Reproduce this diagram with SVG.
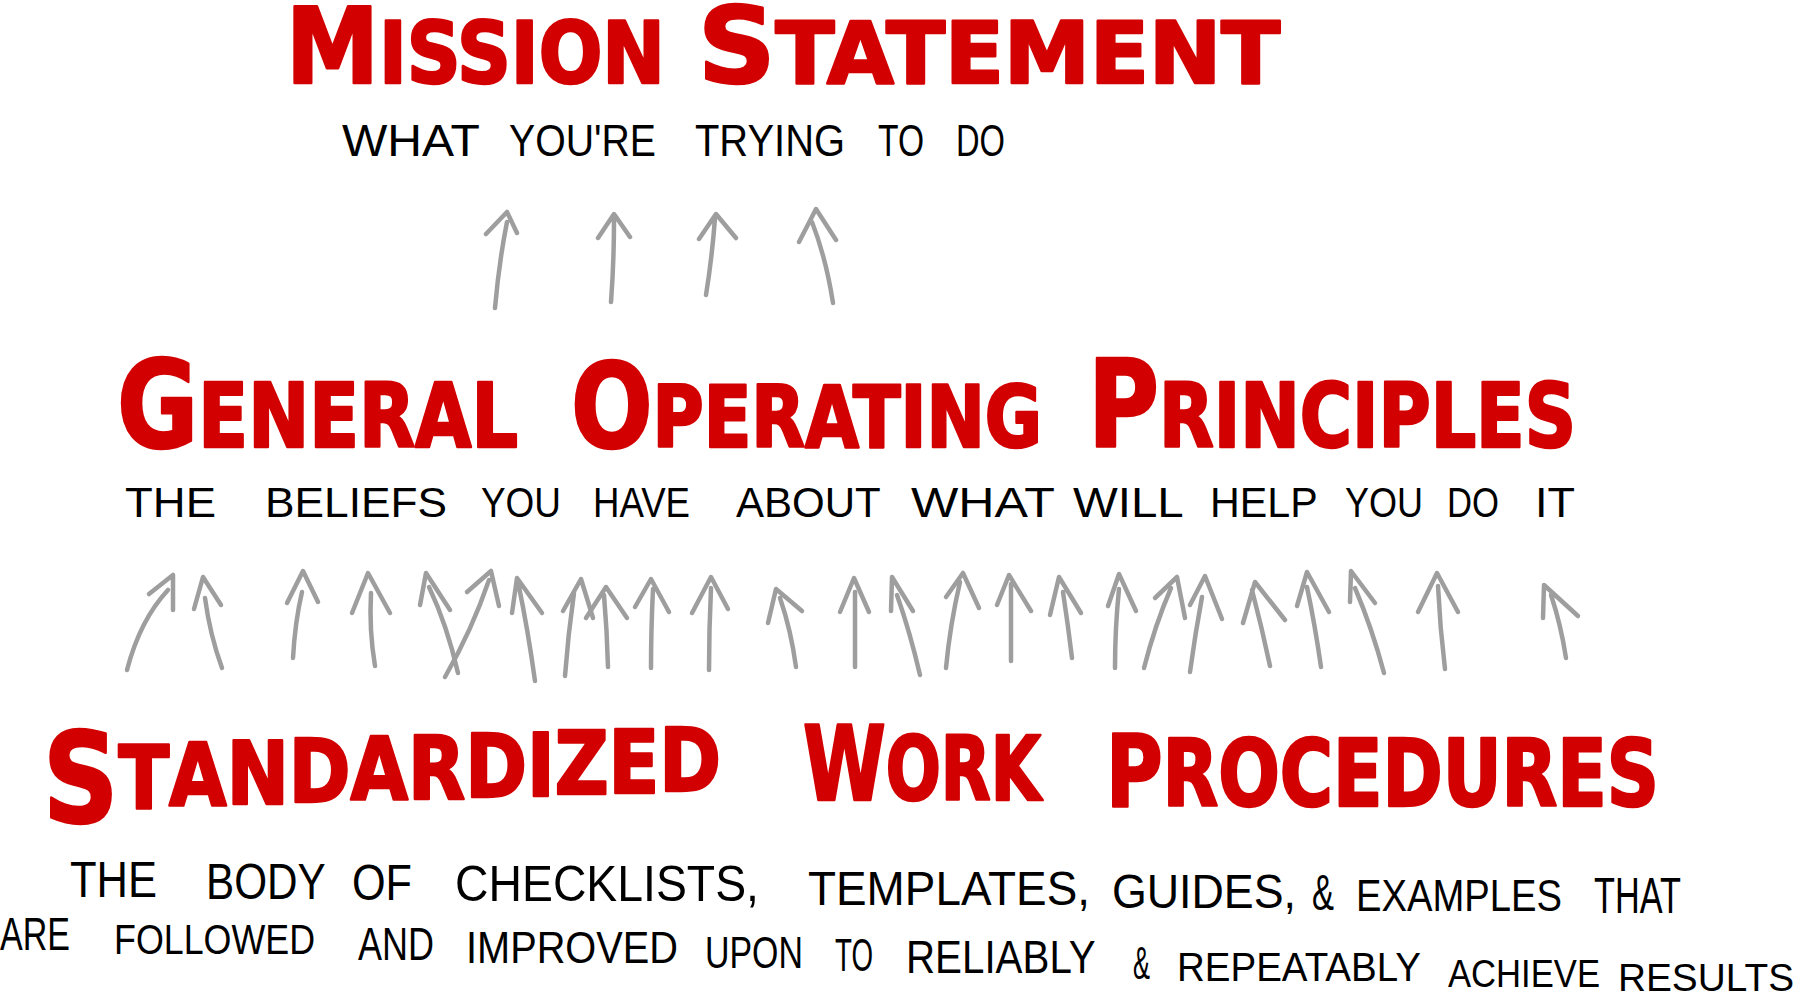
<svg xmlns="http://www.w3.org/2000/svg" width="1801" height="1000" viewBox="0 0 1801 1000">
<style>
.title{font-family:"DejaVu Sans Condensed","DejaVu Sans",sans-serif;font-weight:bold;fill:#d20000;stroke:#d20000;stroke-width:2.5;stroke-linejoin:round}
.sub{font-family:"Liberation Sans",Arial,sans-serif;fill:#000}
.arr{fill:none;stroke:#9e9e9e;stroke-width:4.5;stroke-linecap:round;stroke-linejoin:round}
</style>
<rect width="1801" height="1000" fill="#fff"/>
<g id="mission">
<text class="title" x="286" y="83" textLength="379" lengthAdjust="spacingAndGlyphs"><tspan font-size="106">M</tspan><tspan font-size="85">ISSION</tspan></text>
<text class="title" x="698" y="83" textLength="582" lengthAdjust="spacingAndGlyphs"><tspan font-size="106">S</tspan><tspan font-size="85">TATEMENT</tspan></text>
<text class="sub" y="156" font-size="44"><tspan x="342" textLength="137" lengthAdjust="spacingAndGlyphs">WHAT</tspan> <tspan x="509" textLength="147" lengthAdjust="spacingAndGlyphs">YOU'RE</tspan> <tspan x="695" textLength="150" lengthAdjust="spacingAndGlyphs">TRYING</tspan> <tspan x="878" textLength="46" lengthAdjust="spacingAndGlyphs">TO</tspan> <tspan x="956" textLength="49" lengthAdjust="spacingAndGlyphs">DO</tspan></text>
</g>
<g id="principles">
<text class="title" x="117" y="447" textLength="401" lengthAdjust="spacingAndGlyphs"><tspan font-size="121">G</tspan><tspan font-size="89">ENERAL</tspan></text>
<text class="title" x="571" y="447" textLength="471" lengthAdjust="spacingAndGlyphs"><tspan font-size="117">O</tspan><tspan font-size="85">PERATING</tspan></text>
<text class="title" x="1088" y="447" textLength="488" lengthAdjust="spacingAndGlyphs"><tspan font-size="121">P</tspan><tspan font-size="89">RINCIPLES</tspan></text>
<text class="sub" y="517" font-size="42"><tspan x="125" textLength="91" lengthAdjust="spacingAndGlyphs">THE</tspan> <tspan x="265" textLength="182" lengthAdjust="spacingAndGlyphs">BELIEFS</tspan> <tspan x="481" textLength="80" lengthAdjust="spacingAndGlyphs">YOU</tspan> <tspan x="593" textLength="97" lengthAdjust="spacingAndGlyphs">HAVE</tspan> <tspan x="736" textLength="144" lengthAdjust="spacingAndGlyphs">ABOUT</tspan> <tspan x="911" textLength="143" lengthAdjust="spacingAndGlyphs">WHAT</tspan> <tspan x="1073" textLength="109" lengthAdjust="spacingAndGlyphs">WILL</tspan> <tspan x="1210" textLength="107" lengthAdjust="spacingAndGlyphs">HELP</tspan> <tspan x="1345" textLength="78" lengthAdjust="spacingAndGlyphs">YOU</tspan> <tspan x="1447" textLength="52" lengthAdjust="spacingAndGlyphs">DO</tspan> <tspan x="1535" textLength="40" lengthAdjust="spacingAndGlyphs">IT</tspan></text>
</g>
<g id="procedures">
<text class="title" x="43" y="808" textLength="678" lengthAdjust="spacingAndGlyphs"><tspan font-size="124" y="822">S</tspan><tspan font-size="88" y="808 806 804 802 800 798.5 797 795.5 794 792.5 791">TANDARDIZED</tspan></text>
<text class="title" x="803" y="800" textLength="238" lengthAdjust="spacingAndGlyphs"><tspan font-size="103">W</tspan><tspan font-size="89">ORK</tspan></text>
<text class="title" x="1106" y="806" textLength="553" lengthAdjust="spacingAndGlyphs"><tspan font-size="99">P</tspan><tspan font-size="93">ROCEDURES</tspan></text>
<text class="sub" font-size="50"><tspan x="70" y="897" textLength="87" lengthAdjust="spacingAndGlyphs">THE</tspan> <tspan x="206" y="898.5" textLength="119" lengthAdjust="spacingAndGlyphs">BODY</tspan> <tspan x="352" y="900" textLength="60" lengthAdjust="spacingAndGlyphs">OF</tspan> <tspan x="455" y="901" textLength="304" lengthAdjust="spacingAndGlyphs">CHECKLISTS,</tspan> <tspan x="808" y="905" font-size="48" textLength="282" lengthAdjust="spacingAndGlyphs">TEMPLATES,</tspan> <tspan x="1112" y="908" font-size="48" textLength="184" lengthAdjust="spacingAndGlyphs">GUIDES,</tspan> <tspan x="1312" y="910" textLength="22" lengthAdjust="spacingAndGlyphs">&amp;</tspan> <tspan x="1356" y="910.5" font-size="44" textLength="206" lengthAdjust="spacingAndGlyphs">EXAMPLES</tspan> <tspan x="1594" y="913" textLength="87" lengthAdjust="spacingAndGlyphs">THAT</tspan></text>
<text class="sub" font-size="46"><tspan x="0" y="950" textLength="70" lengthAdjust="spacingAndGlyphs">ARE</tspan> <tspan x="114" y="954" font-size="43" textLength="201" lengthAdjust="spacingAndGlyphs">FOLLOWED</tspan> <tspan x="358" y="960" textLength="76" lengthAdjust="spacingAndGlyphs">AND</tspan> <tspan x="466" y="963" font-size="44" textLength="212" lengthAdjust="spacingAndGlyphs">IMPROVED</tspan> <tspan x="705" y="968" font-size="44" textLength="98" lengthAdjust="spacingAndGlyphs">UPON</tspan> <tspan x="835" y="971" textLength="38" lengthAdjust="spacingAndGlyphs">TO</tspan> <tspan x="906" y="973" textLength="189" lengthAdjust="spacingAndGlyphs">RELIABLY</tspan> <tspan x="1133" y="979" textLength="17" lengthAdjust="spacingAndGlyphs">&amp;</tspan> <tspan x="1177" y="981" font-size="41" textLength="244" lengthAdjust="spacingAndGlyphs">REPEATABLY</tspan> <tspan x="1448" y="987" font-size="38" textLength="152" lengthAdjust="spacingAndGlyphs">ACHIEVE</tspan> <tspan x="1618" y="991" font-size="38" textLength="176" lengthAdjust="spacingAndGlyphs">RESULTS</tspan></text>
</g>
<g id="connectors">
<path class="arr" d="M495 308 Q499 262 507 222 M486 234 L507 212 L517 233"/>
<path class="arr" d="M611 302 Q614 262 614 220 M598 238 L614 214 L630 237"/>
<path class="arr" d="M706 295 Q712 258 715 218 M699 239 L716 214 L736 238"/>
<path class="arr" d="M833 303 Q826 258 812 222 M799 242 L816 209 L836 240"/>
<path class="arr" d="M127 670 Q140 620 168 590 M149 594 L173 575 L173 610"/>
<path class="arr" d="M222 668 Q210 635 205 598 M194 609 L203 577 L221 605"/>
<path class="arr" d="M293 658 Q295 622 302 592 M287 603 L303 571 L318 602"/>
<path class="arr" d="M375 666 Q369 630 371 593 M352 613 L368 573 L390 613"/>
<path class="arr" d="M458 673 Q447 625 429 587 M420 605 L426 573 L450 610"/>
<path class="arr" d="M445 677 Q472 630 489 580 M467 592 L491 571 L499 606"/>
<path class="arr" d="M535 681 Q528 630 518 582 M512 613 L517 578 L542 613"/>
<path class="arr" d="M565 676 Q568 635 574 593 M563 611 L581 579 L593 618"/>
<path class="arr" d="M608 667 Q607 630 604 595 M586 618 L606 587 L627 618"/>
<path class="arr" d="M651 668 Q651 630 653 589 M635 607 L651 579 L669 612"/>
<path class="arr" d="M709 670 Q709 630 711 588 M692 613 L711 577 L728 609"/>
<path class="arr" d="M796 667 Q791 630 780 598 M768 623 L776 589 L802 611"/>
<path class="arr" d="M855 667 L855 592 M840 612 L854 578 L869 612"/>
<path class="arr" d="M920 675 Q910 632 897 595 M891 611 L892 577 L913 611"/>
<path class="arr" d="M946 668 Q950 625 960 582 M946 597 L963 573 L979 608"/>
<path class="arr" d="M1011 661 L1011 584 M997 605 L1009 575 L1031 611"/>
<path class="arr" d="M1072 658 Q1068 625 1063 592 M1050 615 L1059 577 L1081 613"/>
<path class="arr" d="M1115 668 Q1115 628 1119 589 M1108 606 L1119 574 L1136 611"/>
<path class="arr" d="M1144 668 Q1155 625 1171 588 M1155 598 L1177 577 L1185 618"/>
<path class="arr" d="M1190 672 Q1195 635 1202 597 M1190 605 L1205 576 L1222 619"/>
<path class="arr" d="M1270 666 Q1262 628 1252 590 M1243 623 L1255 582 L1285 620"/>
<path class="arr" d="M1321 667 Q1315 625 1307 587 M1297 606 L1307 572 L1329 612"/>
<path class="arr" d="M1384 673 Q1372 628 1355 588 M1350 602 L1351 571 L1375 603"/>
<path class="arr" d="M1445 669 Q1440 628 1438 586 M1418 612 L1437 573 L1458 612"/>
<path class="arr" d="M1566 658 Q1561 625 1551 595 M1543 618 L1544 585 L1578 616"/>
</g>
</svg>
